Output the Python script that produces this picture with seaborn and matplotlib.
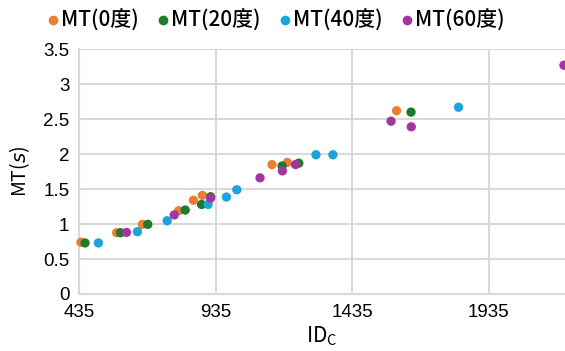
import pandas as pd
import seaborn as sns
import matplotlib.pyplot as plt
from matplotlib.lines import Line2D

# Data
id_0 = [442, 573, 667, 800, 854, 887, 1142, 1198, 1598]
mt_0 = [0.74, 0.876, 0.995, 1.19, 1.34, 1.41, 1.85, 1.88, 2.62]
id_20 = [457, 587, 687, 824, 884, 917, 1179, 1240, 1651]
mt_20 = [0.73, 0.876, 0.995, 1.20, 1.28, 1.39, 1.83, 1.87, 2.60]
id_40 = [506, 649, 758, 908, 975, 1013, 1303, 1365, 1825]
mt_40 = [0.73, 0.89, 1.047, 1.28, 1.386, 1.49, 1.99, 1.99, 2.67]
id_60 = [609, 784, 917, 1098, 1180, 1228, 1578, 1652, 2211]
mt_60 = [0.88, 1.13, 1.37, 1.66, 1.76, 1.85, 2.47, 2.39, 3.27]

series = ['MT(0度)', 'MT(20度)', 'MT(40度)', 'MT(60度)']
colors = ['#ED7D31', '#1E7B2A', '#1AA3DD', '#A2369F']
x_ticks = [435, 935, 1435, 1935]
y_ticks = [0, 0.5, 1, 1.5, 2, 2.5, 3, 3.5]
y_labels = ['0', '0.5', '1', '1.5', '2', '2.5', '3', '3.5']

frames = []
for name, xs, ys in zip(series, [id_0, id_20, id_40, id_60], [mt_0, mt_20, mt_40, mt_60]):
    frames.append(pd.DataFrame({'ID': xs, 'MT': ys, 'series': name}))
df = pd.concat(frames, ignore_index=True)

sns.set_style('white')
plt.rcParams['font.family'] = ['Noto Sans CJK JP', 'DejaVu Sans']
plt.rcParams['text.color'] = 'black'
plt.rcParams['axes.labelcolor'] = 'black'

tick_font = dict(family='Liberation Sans', size=13.5)

fig = plt.figure(figsize=(5.65, 3.51), dpi=100)
ax = fig.add_axes([0.1398, 0.1624, 0.8602, 0.6976])

sns.scatterplot(data=df, x='ID', y='MT', hue='series', palette=colors,
                s=45, linewidth=0, ax=ax, legend=False, zorder=3, clip_on=False)

ax.set_xlim(435, 2215)
ax.set_ylim(0, 3.5)
ax.set_xticks(x_ticks)
ax.set_xticklabels([str(t) for t in x_ticks], **tick_font)
ax.set_yticks(y_ticks)
ax.set_yticklabels(y_labels, **tick_font)
ax.grid(True, color='#D9D9D9', linewidth=1.5, zorder=0)
ax.set_axisbelow(True)
for side in ['top', 'right']:
    ax.spines[side].set_visible(False)
for side in ['left', 'bottom']:
    ax.spines[side].set_color('#D9D9D9')
    ax.spines[side].set_linewidth(1.5)
ax.tick_params(length=0, pad=7, colors='black')

ax.set_xlabel('ID$_\\mathregular{C}$', fontsize=15, labelpad=3)
ax.set_ylabel('MT($\\mathit{s}$)', fontsize=14, labelpad=8)

handles = [Line2D([0], [0], marker='o', linestyle='', markersize=7,
                  markerfacecolor=c, markeredgewidth=0) for c in colors]
fig.legend(handles, series, loc='upper center', bbox_to_anchor=(0.487, 1.025),
           ncol=4, frameon=False, prop=dict(size=15, weight='medium'),
           handletextpad=0.05, columnspacing=0.8, handlelength=0.7)

fig.savefig('out.png', dpi=100)
